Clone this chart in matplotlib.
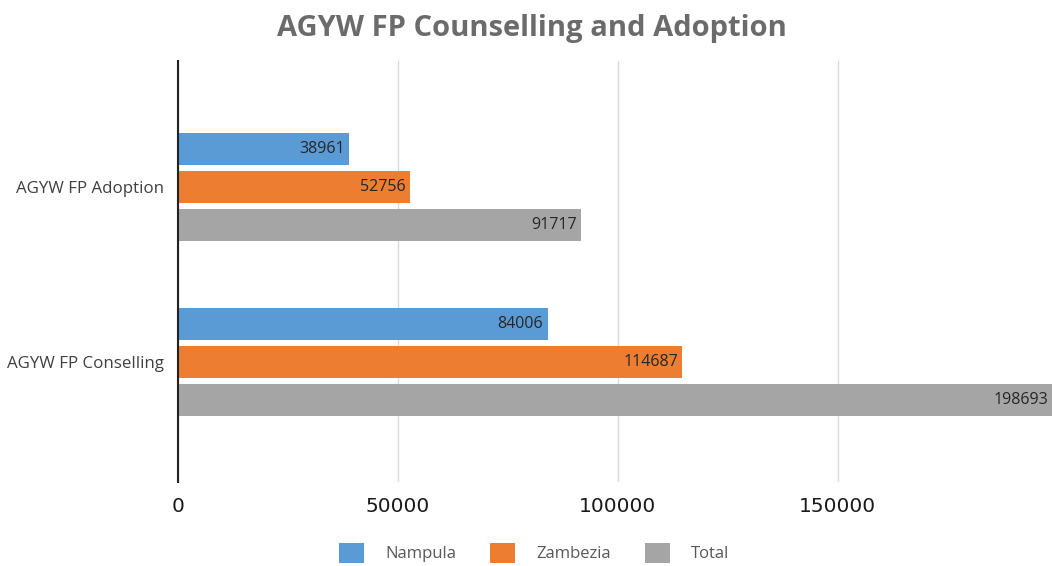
import numpy as np
import matplotlib.pyplot as plt

categories = ['AGYW FP Conselling', 'AGYW FP Adoption']
series = ['Nampula', 'Zambezia', 'Total']
nampula = [84006, 38961]
zambezia = [114687, 52756]
total = [198693, 91717]
colors = ['#5B9BD5', '#ED7D31', '#A5A5A5']

fig = plt.figure(figsize=(10.52, 5.66), dpi=100)
ax = fig.add_axes([178 / 1052, 84 / 566, 874 / 1052, 421 / 566])

y = np.arange(len(categories))
h = 0.18
offsets = [0.217, 0, -0.217]
for vals, name, col, off in zip([nampula, zambezia, total], series, colors, offsets):
    ax.barh(y + off, vals, height=h, color=col, label=name, zorder=3)
    for yi, v in zip(y, vals):
        ax.annotate(str(v), (v, yi + off), xytext=(-3, 0), textcoords='offset points',
                    ha='right', va='center', fontsize=11.5, color='#262626',
                    family='Open Sans', zorder=5)

ax.set_xlim(0, 198693)
ax.set_ylim(-0.686, 1.72)
ax.set_xticks([0, 50000, 100000, 150000])
ax.set_xticklabels(['0', '50000', '100000', '150000'], fontsize=14.5, color='#1a1a1a')
ax.set_yticks(y)
ax.set_yticklabels(categories, fontsize=12.2, color='#404040', family='Open Sans')
ax.tick_params(length=0, pad=10)
ax.tick_params(axis='x', pad=11)
ax.grid(axis='x', color='#d9d9d9', linewidth=1, zorder=0)
for s in ['top', 'right', 'bottom']:
    ax.spines[s].set_visible(False)
ax.spines['left'].set_color('#222222')
ax.spines['left'].set_linewidth(1.5)
ax.spines['left'].set_zorder(4)

fig.suptitle('AGYW FP Counselling and Adoption', x=0.506, y=0.975, fontsize=21,
             fontweight='bold', color='#6b6b6b', family='Open Sans')

handles, labels = ax.get_legend_handles_labels()
fig.legend(handles, labels, loc='center', bbox_to_anchor=(0.508, 0.023), ncol=3,
           frameon=False, handlelength=1.5, handleheight=1.5,
           columnspacing=2.0, handletextpad=1.3, labelcolor='#595959',
           prop={'family': 'Open Sans', 'size': 12})

fig.savefig('out.png', dpi=100)
